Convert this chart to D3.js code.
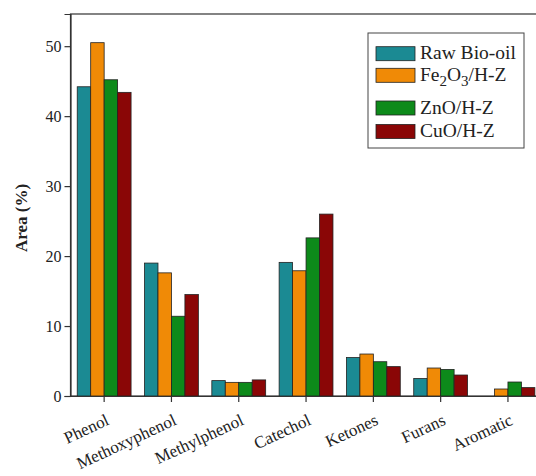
<!DOCTYPE html>
<html>
<head>
<meta charset="utf-8">
<script src="https://cdn.jsdelivr.net/npm/d3@7"></script>
<style>
  body { margin: 0; background: #fff; }
  text { font-family: "Liberation Serif", "Times New Roman", serif; fill: #222; }
</style>
</head>
<body>
<div id="chart"></div>
<script>
// data
var categories = ["Phenol", "Methoxyphenol", "Methylphenol", "Catechol", "Ketones", "Furans", "Aromatic"];
var seriesNames = ["Raw Bio-oil", "Fe2O3/H-Z", "ZnO/H-Z", "CuO/H-Z"];
var rawBioOil = [44.2, 19.0, 2.2, 19.1, 5.5, 2.5, 0];
var fe2o3 = [50.5, 17.6, 1.95, 17.9, 6.0, 4.0, 1.0];
var zno = [45.2, 11.4, 1.95, 22.6, 4.9, 3.8, 2.0];
var cuo = [43.4, 14.5, 2.3, 26.0, 4.2, 3.0, 1.2];
var yTicks = [0, 10, 20, 30, 40, 50];

var colors = ["#1b8a93", "#f08a06", "#0d8a1a", "#8a0606"];
var seriesValues = [rawBioOil, fe2o3, zno, cuo];

var W = 536, H = 476;
var margin = { left: 70.5, top: 14, bottom: 396, right: 545 };

var svg = d3.select("#chart").append("svg")
    .attr("width", W)
    .attr("height", H);

var x = d3.scaleBand()
    .domain(categories)
    .range([margin.left, margin.left + 67.3 * categories.length])
    .paddingInner(0)
    .paddingOuter(0);

var xInner = d3.scaleBand()
    .domain(seriesNames)
    .range([0, x.bandwidth()])
    .paddingOuter(0.5);

var y = d3.scaleLinear()
    .domain([0, 54.6])
    .range([margin.bottom, margin.top]);

// frame
svg.append("rect")
    .attr("x", margin.left).attr("y", margin.top)
    .attr("width", margin.right - margin.left).attr("height", margin.bottom - margin.top)
    .attr("fill", "none")
    .attr("stroke", "#333")
    .attr("stroke-width", 1.2);

// bars
var groups = svg.selectAll(".grp")
    .data(categories)
    .enter().append("g")
    .attr("class", "grp")
    .attr("transform", function(d) { return "translate(" + x(d) + ",0)"; });

groups.selectAll("rect")
    .data(function(d, i) {
        return seriesNames.map(function(s, j) { return { s: s, j: j, v: seriesValues[j][i] }; });
    })
    .enter().append("rect")
    .attr("x", function(d) { return xInner(d.s); })
    .attr("width", xInner.bandwidth())
    .attr("y", function(d) { return y(d.v); })
    .attr("height", function(d) { return y(0) - y(d.v); })
    .attr("fill", function(d) { return colors[d.j]; })
    .attr("stroke", "#222")
    .attr("stroke-width", 0.8)
    .style("display", function(d) { return d.v > 0 ? null : "none"; });

// y axis
var yAxis = svg.append("g")
    .attr("transform", "translate(" + margin.left + ",0)")
    .call(d3.axisLeft(y).tickValues(yTicks).tickSize(6).tickPadding(3));
yAxis.select(".domain").attr("stroke", "#333").attr("stroke-width", 1.2);
yAxis.selectAll(".tick line").attr("stroke", "#333").attr("stroke-width", 1.2);
yAxis.selectAll(".tick text").style("font-size", "16px").attr("fill", "#222");

// x axis
var xAxis = svg.append("g")
    .attr("transform", "translate(0," + margin.bottom + ")")
    .call(d3.axisBottom(x).tickSize(6).tickSizeOuter(0));
xAxis.select(".domain").attr("stroke", "#333").attr("stroke-width", 1.2);
xAxis.selectAll(".tick line").attr("stroke", "#333").attr("stroke-width", 1.2);
xAxis.selectAll(".tick text")
    .style("font-size", "17px")
    .attr("fill", "#222")
    .attr("text-anchor", "end")
    .attr("dy", null)
    .attr("y", 0)
    .attr("transform", "translate(6,28) rotate(-25)");

// y label
svg.append("text")
    .attr("transform", "translate(27,218) rotate(-90)")
    .attr("text-anchor", "middle")
    .style("font-size", "17px")
    .style("font-weight", "bold")
    .text("Area (%)");

// legend
var legend = svg.append("g");
legend.append("rect")
    .attr("x", 368).attr("y", 33)
    .attr("width", 156).attr("height", 115)
    .attr("fill", "#fff")
    .attr("stroke", "#444")
    .attr("stroke-width", 1);

var rowY = [53.7, 75.3, 108, 131.5];
seriesNames.forEach(function(s, i) {
    legend.append("rect")
        .attr("x", 376).attr("y", rowY[i] - 7)
        .attr("width", 39).attr("height", 14)
        .attr("fill", colors[i])
        .attr("stroke", "#222")
        .attr("stroke-width", 0.8);
    var t = legend.append("text")
        .attr("x", 420).attr("y", rowY[i] + 5.5)
        .style("font-size", "19.5px");
    if (s === "Fe2O3/H-Z") {
        t.append("tspan").text("Fe");
        t.append("tspan").attr("dy", 5).style("font-size", "15px").text("2");
        t.append("tspan").attr("dy", -5).text("O");
        t.append("tspan").attr("dy", 5).style("font-size", "15px").text("3");
        t.append("tspan").attr("dy", -5).text("/H-Z");
    } else {
        t.text(s);
    }
});
</script>
</body>
</html>
